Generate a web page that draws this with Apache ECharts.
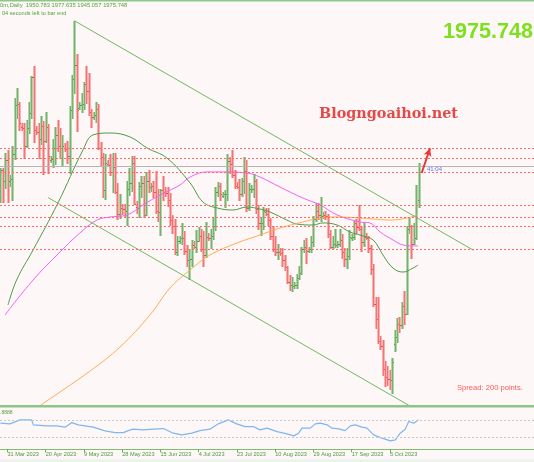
<!DOCTYPE html>
<html><head><meta charset="utf-8">
<script src="https://cdn.jsdelivr.net/npm/echarts@6/dist/echarts.min.js"></script>
<style>html,body{margin:0;padding:0;background:#fdf8f7;}#c{width:534px;height:462px;}</style>
</head><body><div id="c"></div>
<script>
// ---- data ----
const dates = ['28 Mar','29 Mar','30 Mar','31 Mar','2 Apr','3 Apr','4 Apr','5 Apr','6 Apr','9 Apr','10 Apr','11 Apr','12 Apr','13 Apr','14 Apr','16 Apr','17 Apr','18 Apr','19 Apr','20 Apr','21 Apr','23 Apr','24 Apr','25 Apr','26 Apr','27 Apr','28 Apr','30 Apr','1 May','2 May','3 May','4 May','5 May','7 May','8 May','9 May','10 May','11 May','12 May','14 May','15 May','16 May','17 May','18 May','19 May','21 May','22 May','23 May','24 May','25 May','26 May','28 May','29 May','30 May','31 May','1 Jun','2 Jun','4 Jun','5 Jun','6 Jun','7 Jun','8 Jun','9 Jun','11 Jun','12 Jun','13 Jun','14 Jun','15 Jun','16 Jun','18 Jun','19 Jun','20 Jun','21 Jun','22 Jun','23 Jun','25 Jun','26 Jun','27 Jun','28 Jun','29 Jun','30 Jun','2 Jul','3 Jul','4 Jul','5 Jul','6 Jul','7 Jul','9 Jul','10 Jul','11 Jul','12 Jul','13 Jul','14 Jul','16 Jul','17 Jul','18 Jul','19 Jul','20 Jul','21 Jul','23 Jul','24 Jul','25 Jul','26 Jul','27 Jul','28 Jul','30 Jul','31 Jul','1 Aug','2 Aug','3 Aug','4 Aug','6 Aug','7 Aug','8 Aug','9 Aug','10 Aug','11 Aug','13 Aug','14 Aug','15 Aug','16 Aug','17 Aug','18 Aug','20 Aug','21 Aug','22 Aug','23 Aug','24 Aug','25 Aug','27 Aug','28 Aug','29 Aug','30 Aug','31 Aug','1 Sep','3 Sep','4 Sep','5 Sep','6 Sep','7 Sep','8 Sep','10 Sep','11 Sep','12 Sep','13 Sep','14 Sep','15 Sep','17 Sep','18 Sep','19 Sep','20 Sep','21 Sep','22 Sep','24 Sep','25 Sep','26 Sep','27 Sep','28 Sep','29 Sep','1 Oct','2 Oct','3 Oct','4 Oct','5 Oct','6 Oct','8 Oct','9 Oct','10 Oct','11 Oct','12 Oct','13 Oct','15 Oct','16 Oct','17 Oct','18 Oct','19 Oct'];
const open  = [1956,1973,1965,1980,1965,1966,1984,2020,2021,2004,2003,1990,2003,2014,2040,2002,2000,1995,2005,1994,2004,1980,1981,1989,1998,1990,1989,1989,1988,1983,2016,2039,2049,2018,2020,2021,2035,2030,2015,2011,2013,2017,1989,1982,1958,1977,1976,1971,1975,1957,1941,1945,1944,1943,1959,1963,1978,1946,1945,1961,1963,1940,1965,1960,1961,1957,1943,1942,1958,1957,1956,1951,1936,1932,1913,1921,1923,1923,1914,1907,1908,1918,1917,1921,1925,1915,1911,1924,1923,1925,1932,1957,1961,1954,1955,1955,1979,1977,1969,1961,1960,1955,1965,1972,1945,1959,1959,1965,1944,1934,1934,1942,1941,1936,1925,1915,1913,1913,1912,1907,1902,1891,1889,1888,1889,1894,1898,1915,1917,1914,1915,1920,1937,1943,1940,1939,1940,1939,1926,1917,1919,1918,1919,1922,1913,1908,1910,1923,1924,1934,1931,1930,1920,1924,1923,1916,1901,1875,1864,1848,1845,1828,1822,1821,1820,1846,1851,1861,1860,1874,1868,1930,1932,1919,1923,1950.783];
const high  = [1974,1974,1985,1987,1969,1990,2025,2032,2022,2007,2007,2009,2022,2041,2048,2005,2007,2012,2008,2015,2006,1983,1995,2004,2009,2003,1998,1992,1994,2019,2042,2081,2057,2022,2029,2037,2048,2043,2017,2015,2022,2021,1993,1985,1984,1980,1984,1985,1985,1963,1955,1948,1948,1965,1974,1983,1983,1950,1964,1968,1968,1971,1973,1963,1965,1972,1959,1959,1968,1960,1960,1956,1940,1937,1925,1925,1934,1928,1918,1915,1922,1921,1929,1931,1930,1928,1935,1927,1930,1938,1960,1964,1963,1957,1958,1984,1982,1987,1973,1964,1966,1967,1982,1980,1963,1962,1970,1966,1947,1938,1946,1945,1945,1938,1932,1925,1919,1916,1916,1911,1903,1896,1895,1891,1897,1903,1917,1922,1923,1917,1925,1939,1949,1949,1953,1942,1943,1941,1929,1925,1930,1921,1930,1926,1916,1916,1929,1926,1936,1937,1947,1932,1934,1927,1925,1918,1904,1880,1880,1852,1849,1834,1830,1827,1836,1856,1865,1866,1877,1885,1932,1938,1933,1934,1962,1977.635];
const low   = [1949,1949,1959,1949,1960,1950,1980,2010,2001,2001,1981,1989,1999,2010,1992,1998,1981,1991,1969,1992,1970,1978,1974,1976,1986,1981,1975,1986,1977,1970,2010,2028,2000,2016,2014,2016,2021,2012,2003,2009,2007,1987,1975,1952,1951,1975,1968,1956,1955,1936,1937,1940,1938,1932,1954,1957,1947,1941,1938,1952,1938,1939,1956,1957,1952,1941,1935,1925,1950,1953,1946,1932,1926,1911,1910,1919,1918,1911,1902,1893,1902,1915,1912,1920,1913,1902,1909,1921,1915,1922,1928,1953,1950,1952,1945,1950,1970,1967,1959,1959,1950,1953,1955,1942,1943,1956,1952,1941,1929,1925,1929,1939,1932,1922,1913,1910,1907,1910,1902,1899,1890,1885,1884,1886,1886,1893,1896,1912,1904,1912,1912,1917,1935,1936,1935,1937,1936,1923,1915,1915,1916,1916,1917,1908,1902,1901,1907,1921,1922,1926,1928,1913,1917,1922,1912,1896,1873,1857,1846,1842,1823,1815,1816,1813,1810,1840,1847,1854,1857,1860,1867,1926,1908,1918,1922,1945.057];
const close = [1973,1965,1980,1969,1966,1984,2020,2021,2007,2003,1990,2003,2014,2040,2004,2000,1995,2005,1994,2004,1983,1981,1989,1998,1990,1989,1990,1988,1983,2016,2039,2049,2016,2020,2021,2035,2030,2015,2011,2013,2017,1989,1982,1958,1978,1976,1971,1975,1957,1941,1946,1944,1943,1959,1963,1978,1948,1945,1961,1963,1940,1965,1961,1961,1957,1943,1942,1958,1957,1956,1951,1936,1932,1913,1921,1923,1923,1914,1907,1908,1919,1917,1921,1925,1915,1911,1925,1923,1925,1932,1957,1961,1955,1955,1955,1979,1977,1969,1962,1960,1955,1965,1972,1945,1959,1959,1965,1944,1934,1934,1943,1941,1936,1925,1915,1913,1914,1912,1907,1902,1891,1889,1889,1889,1894,1898,1915,1917,1914,1915,1920,1937,1943,1940,1940,1940,1939,1926,1917,1919,1919,1919,1922,1913,1908,1910,1924,1924,1934,1931,1930,1920,1925,1923,1916,1901,1875,1864,1848,1845,1828,1822,1821,1820,1833,1851,1861,1860,1874,1868,1932,1932,1919,1923,1947,1975.748];

const tickIndex  = [3,19,35,51,67,83,99,115,131,147,163];
const tickLabels = ['31 Mar 2023','20 Apr 2023','9 May 2023','28 May 2023','15 Jun 2023','4 Jul 2023','23 Jul 2023','10 Aug 2023','29 Aug 2023','17 Sep 2023','5 Oct 2023'];

const levels   = [1988.7, 1981.4, 1971.3, 1947.3, 1938.5, 1931.9, 1915.3];
const bidPrice = 1975.748;

const maGreenIdx = [3.2,6.8,13.7,24.1,34.6,38.8,45.9,54.3,61.4,69.7,79.4,84.8,90.7,97.3,103.2,108.6,112.8,119.9,124.1,130.8,135,140.9,146.3,150.5,156,160.1,164.3,168.5,172.7,174.8];
const maGreenVal = [1874.5,1892.7,1914.5,1948.7,1987.3,1998.2,1999.6,1996.7,1988.7,1981.4,1963.3,1949.4,1945.1,1943.6,1945.8,1944.3,1942.2,1936.3,1933.4,1932.7,1934.2,1932.7,1927.6,1925.4,1921.8,1910.9,1901.4,1898.5,1901.4,1903.6];
const maPinkIdx = [1.95,13.7,25,33.3,40.4,45.9,53,59.7,66.8,75.2,79.4,86.5,93.2,103.2,108.6,117,126.6,133.8,140.9,150.5,154.7,158.9,164.3,168.5,172.7,174.8];
const maPinkVal = [1867.3,1892.7,1913.1,1926.9,1936.3,1938.5,1940,1947.3,1954.5,1961.8,1967.6,1971.3,1971.3,1970.5,1967.6,1960.3,1952.3,1947.3,1940,1934.9,1934.2,1927.6,1921.8,1918.2,1917.5,1917.5];
const maOrangeIdx = [12,17,25,37.5,50.1,62.6,71,79.4,87.7,99,107.4,117,126.6,133.8,140.9,150.5,156,163.1,170.2,174.3];
const maOrangeVal = [1795,1801.8,1811.3,1826.5,1844,1867.3,1886.9,1900,1910.9,1919.6,1924.7,1930.5,1934.9,1937.8,1938.5,1937.8,1937.1,1936.3,1937.8,1940];

const channelUpper = [[31, 2081.2], [198, 1914.3]];
const channelLower = [[20, 1952.6], [171, 1801.5]];
const arrowFrom = [176.3, 1970.5];
const arrowTo   = [179.8, 1988.5];

const rsiIdx = [0,4,8.2,13.1,13.8,19.4,23.6,27.1,29.9,32.6,38.9,43.8,48,51.5,53.5,55.6,59.8,64,68.2,72.4,75.9,80.1,83.5,87.7,91.2,95.4,98.9,102.4,105.9,108.6,111.6,115.8,119.9,122.8,124.8,126.2,129.7,131.8,133.9,136.7,138.8,141.6,144.3,146.4,148.5,151.3,153.4,156.2,159.7,163.2,165.3,167.3,169.4,170.9,173,175];
const rsiVal = [63.3,61.6,71.3,71.3,59.2,56.7,56.7,53.6,64.7,59.2,53.6,44.6,40.5,40.5,45.3,48.7,47,48.7,50.2,39,34.9,39,45.3,48.7,61.6,71.3,61.6,55,55,47,51.2,42.9,37.3,32.5,39,51.2,51.2,61.6,63.3,59.2,51.2,49.5,45.3,56.7,59.2,53.6,51.2,34.9,26.9,20.4,22.8,39,48.7,67.2,63.3,71.3];
const rsiLevels = [70, 30];

// ---- chart ----
const xMin = -0.14, xMax = 223.3;
const barRows = dates.map((d, i) => [i, open[i], close[i], low[i], high[i]]);
const pairs = (a, b) => a.map((v, i) => [v, b[i]]);

function renderBar(params, api) {
  const i = api.value(0);
  const o = api.value(1), c = api.value(2), l = api.value(3), h = api.value(4);
  const pH = api.coord([i, h]), pL = api.coord([i, l]);
  const pO = api.coord([i, o]), pC = api.coord([i, c]);
  const up = c >= o;
  const cx = Math.round(pH[0]);
  const top = Math.round(pH[1]), bot = Math.round(pL[1]);
  const hgt = Math.max(1, bot - top);
  const pale = up ? '#b2d4ab' : '#f9b0b0';
  const dark = up ? '#4f9a48' : '#f04c4c';
  return {
    type: 'group',
    children: [
      { type: 'rect', shape: { x: cx - 1, y: top, width: 3, height: hgt }, style: { fill: pale } },
      { type: 'rect', shape: { x: cx, y: top, width: 1, height: hgt }, style: { fill: dark, opacity: 0.6 } },
      { type: 'rect', shape: { x: cx - 1, y: Math.round(pO[1]), width: 1, height: 1 }, style: { fill: dark } },
      { type: 'rect', shape: { x: cx + 1, y: Math.round(pC[1]), width: 1, height: 1 }, style: { fill: dark } }
    ]
  };
}

const hLine = (v, color, type) => ({ yAxis: v, lineStyle: { color: color, type: type, width: 1 } });

const chart = echarts.init(document.getElementById('c'), null, { renderer: 'canvas' });
chart.setOption({
  animation: false,
  backgroundColor: '#fdf8f7',
  grid: [
    { left: 0, top: 0, width: 534, height: 406 },
    { left: 0, top: 408, width: 534, height: 41.3 }
  ],
  xAxis: [
    { type: 'value', gridIndex: 0, min: xMin, max: xMax, show: false },
    { type: 'value', gridIndex: 1, min: xMin, max: xMax,
      splitLine: { show: false },
      axisLine: { show: true, onZero: false, lineStyle: { color: '#7cbf6e', width: 1 } },
      axisTick: { show: true, customValues: tickIndex, length: 3, lineStyle: { color: '#6aaf5c' } },
      axisLabel: { show: true, customValues: tickIndex,
        formatter: v => tickLabels[tickIndex.indexOf(Math.round(v))] || '',
        align: 'left', margin: 2, color: '#4a9a3a', fontSize: 5.6, fontFamily: 'Liberation Sans' } }
  ],
  yAxis: [
    { type: 'value', gridIndex: 0, min: 1801.1, max: 2096.3, show: false, splitLine: { show: false } },
    { type: 'value', gridIndex: 1, min: 0, max: 100, show: false, splitLine: { show: false } }
  ],
  series: [
    { type: 'custom', xAxisIndex: 0, yAxisIndex: 0, data: barRows, renderItem: renderBar,
      encode: { x: 0, y: [1, 2, 3, 4] }, clip: true, z: 2 },
    { type: 'line', xAxisIndex: 0, yAxisIndex: 0, data: pairs(maGreenIdx, maGreenVal), smooth: 0.4,
      symbol: 'none', lineStyle: { color: '#4e9a48', width: 1 }, z: 3 },
    { type: 'line', xAxisIndex: 0, yAxisIndex: 0, data: pairs(maPinkIdx, maPinkVal), smooth: 0.4,
      symbol: 'none', lineStyle: { color: '#f360f3', width: 1 }, z: 3 },
    { type: 'line', xAxisIndex: 0, yAxisIndex: 0, data: pairs(maOrangeIdx, maOrangeVal), smooth: 0.4,
      symbol: 'none', lineStyle: { color: '#ffab55', width: 1 }, z: 3 },
    { type: 'line', xAxisIndex: 0, yAxisIndex: 0, data: channelUpper, symbol: 'none',
      lineStyle: { color: '#72b862', width: 1 }, z: 3 },
    { type: 'line', xAxisIndex: 0, yAxisIndex: 0, data: channelLower, symbol: 'none',
      lineStyle: { color: '#72b862', width: 1 }, z: 4,
      markLine: { silent: true, symbol: ['none', 'none'], label: { show: false }, animation: false,
        data: levels.map(v => hLine(v, '#ff6a6a', [2, 2])).concat([hLine(bidPrice, '#b4b4b4', 'solid')]) } },
    { type: 'line', xAxisIndex: 0, yAxisIndex: 0, data: [], symbol: 'none', z: 6,
      markLine: { silent: true, label: { show: false }, animation: false,
        lineStyle: { color: '#ee3535', width: 2, type: 'solid' },
        data: [[{ coord: arrowFrom, symbol: 'none' }, { coord: arrowTo, symbol: 'arrow', symbolSize: [6, 8] }]] } },
    { type: 'line', xAxisIndex: 1, yAxisIndex: 1, data: pairs(rsiIdx, rsiVal), symbol: 'none',
      lineStyle: { color: '#7db6f2', width: 1.2 }, z: 3,
      markLine: { silent: true, symbol: ['none', 'none'], label: { show: false }, animation: false,
        data: rsiLevels.map(v => hLine(v, '#c8c8c8', [2, 2])) } }
  ],
  graphic: [
    { type: 'rect', shape: { x: 0, y: 0, width: 534, height: 1.5 }, style: { fill: '#8cc888' }, z: 10 },
    { type: 'rect', shape: { x: 0, y: 405, width: 534, height: 2.5 }, style: { fill: '#8cc48a' }, z: 10 },
    { type: 'rect', shape: { x: 0, y: 459.5, width: 534, height: 3 }, style: { fill: '#efefef' }, z: 10 },
    { type: 'text', x: 0, y: 5, z: 10, style: { text: '0m,Daily  1950.783 1977.635 1945.057 1975.748',
      fill: '#57a03c', font: '5.8px "Liberation Sans"', textVerticalAlign: 'middle' } },
    { type: 'text', x: 2, y: 13.3, z: 10, style: { text: '04 seconds left to bar end',
      fill: '#57a03c', font: '5.6px "Liberation Sans"', textVerticalAlign: 'middle' } },
    { type: 'text', x: 533, y: 21.5, z: 10, style: { text: '1975.748', fill: '#7ee01e',
      font: 'bold 21.6px "Liberation Sans"', textAlign: 'right', textVerticalAlign: 'alphabetic' } },
    { type: 'text', x: 319, y: 107, z: 10, style: { text: 'Blogngoaihoi.net', fill: '#e64848',
      font: 'bold 14.4px "DejaVu Serif"', textAlign: 'left', textVerticalAlign: 'alphabetic',
      shadowColor: 'rgba(0,0,0,0.35)', shadowBlur: 2, shadowOffsetX: 1, shadowOffsetY: 1 } },
    { type: 'text', x: 457, y: 388, z: 10, style: { text: 'Spread: 200 points.', fill: '#ff5a5a',
      font: '7.6px "Liberation Sans"', textVerticalAlign: 'middle' } },
    { type: 'text', x: 427, y: 169.5, z: 10, style: { text: '41:04', fill: '#6a6aff',
      font: '6px "Liberation Sans"', textVerticalAlign: 'middle' } },
    { type: 'text', x: 0, y: 413, z: 10, style: { text: '.8888', fill: '#57a03c',
      font: '5px "Liberation Sans"', textVerticalAlign: 'middle' } }
  ]
});
</script>
</body></html>
